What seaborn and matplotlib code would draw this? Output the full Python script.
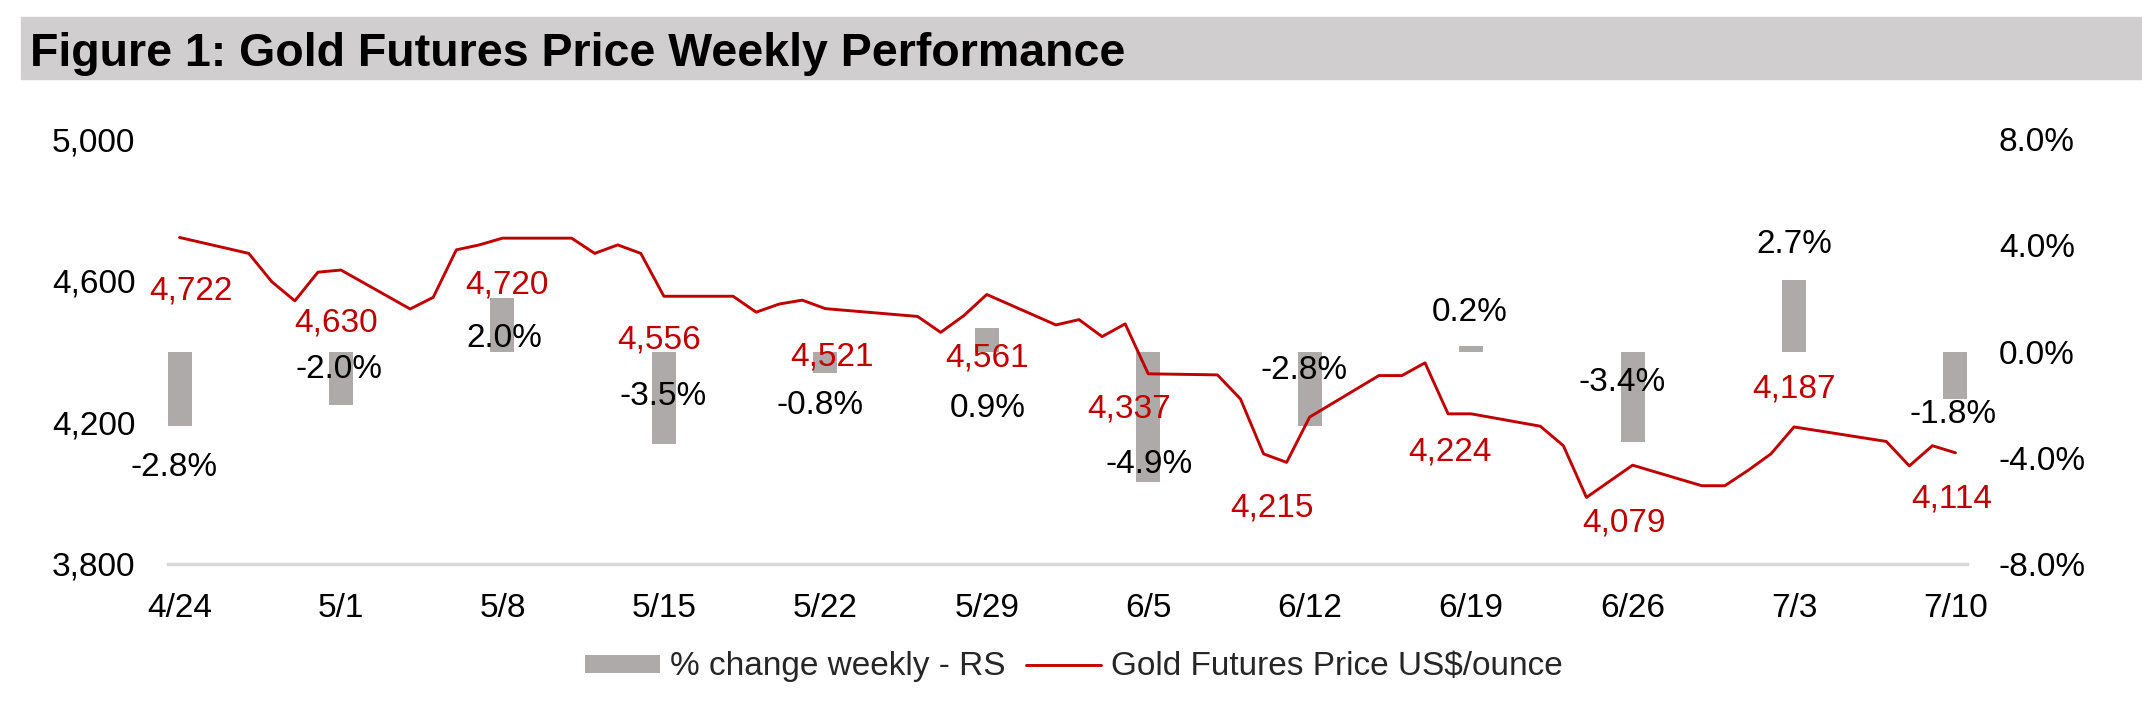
import matplotlib
matplotlib.use("Agg")
import matplotlib.pyplot as plt
import matplotlib.dates as mdates
from matplotlib.patches import Rectangle, Patch
from matplotlib.lines import Line2D
import numpy as np
import pandas as pd
import seaborn as sns

# ---------------- data ----------------
price_dates = ["2026-04-24", "2026-04-27", "2026-04-28", "2026-04-29", "2026-04-30", "2026-05-01",
               "2026-05-04", "2026-05-05", "2026-05-06", "2026-05-07", "2026-05-08",
               "2026-05-11", "2026-05-12", "2026-05-13", "2026-05-14", "2026-05-15",
               "2026-05-18", "2026-05-19", "2026-05-20", "2026-05-21", "2026-05-22",
               "2026-05-26", "2026-05-27", "2026-05-28", "2026-05-29",
               "2026-06-01", "2026-06-02", "2026-06-03", "2026-06-04", "2026-06-05",
               "2026-06-08", "2026-06-09", "2026-06-10", "2026-06-11", "2026-06-12",
               "2026-06-15", "2026-06-16", "2026-06-17", "2026-06-18", "2026-06-19",
               "2026-06-22", "2026-06-23", "2026-06-24", "2026-06-26",
               "2026-06-29", "2026-06-30", "2026-07-01", "2026-07-02", "2026-07-03",
               "2026-07-07", "2026-07-08", "2026-07-09", "2026-07-10"]
prices = [4722, 4677, 4597, 4543, 4624, 4630,
          4520, 4553, 4687, 4701, 4720,
          4720, 4677, 4701, 4677, 4556,
          4556, 4511, 4534, 4545, 4521,
          4499, 4454, 4501, 4561,
          4475, 4490, 4442, 4478, 4337,
          4334, 4266, 4111, 4087, 4215,
          4332, 4332, 4368, 4224, 4224,
          4189, 4134, 3988, 4079,
          4021, 4021, 4064, 4111, 4187,
          4146, 4077, 4134, 4114]

week_dates = ["2026-04-24", "2026-05-01", "2026-05-08", "2026-05-15", "2026-05-22", "2026-05-29",
              "2026-06-05", "2026-06-12", "2026-06-19", "2026-06-26", "2026-07-03", "2026-07-10"]
week_labels = ["4/24", "5/1", "5/8", "5/15", "5/22", "5/29",
               "6/5", "6/12", "6/19", "6/26", "7/3", "7/10"]
weekly_pct = [-2.8, -2.0, 2.0, -3.5, -0.8, 0.9, -4.9, -2.8, 0.2, -3.4, 2.7, -1.8]
week_close = [4722, 4630, 4720, 4556, 4521, 4561, 4337, 4215, 4224, 4079, 4187, 4114]

left_ticks = [3800, 4200, 4600, 5000]
right_ticks = [-8.0, -4.0, 0.0, 4.0, 8.0]

title = "Figure 1: Gold Futures Price Weekly Performance"
bar_legend = "% change weekly - RS"
line_legend = "Gold Futures Price US$/ounce"

# ---------------- layout / style ----------------
price_label_offsets = [(11, -50), (-5, -49), (5, -43), (-5, -40), (7, -45), (0, -60),
                       (-19, -32), (-38, -87), (-21, -35), (-9, -54), (0, 41), (-4, -43)]
pct_label_offsets = [(-5, -38), (-2, 39), (2, -37), (-1, 51), (-5, -29), (1, -77),
                     (1, 21), (-6, 59), (-1, 37), (-10, 63), (0, 39), (-2, -12)]

RED = "#C00000"
BAR = "#AEAAAA"
BAND = "#D0CECE"
AXLINE = "#D9D9D9"
FS = 24

sns.set_theme(style="white")
plt.rcParams["font.family"] = ["Liberation Sans", "DejaVu Sans"]

W, H = 2142, 708
fig = plt.figure(figsize=(W / 100, H / 100), dpi=100)

# title band
fig.patches.append(Rectangle((21 / W, 1 - 79 / H), 1 - 21 / W, 62 / H,
                             transform=fig.transFigure, color=BAND, zorder=0))
fig.text(30 / W, 1 - 66 / H, title, fontsize=33.5, fontweight="bold",
         ha="left", va="baseline", color="black")

ax = fig.add_axes([168 / W, 1 - 564 / H, (1967 - 168) / W, (564 - 139) / H])
ax2 = ax.twinx()

df_line = pd.DataFrame({"x": mdates.date2num(pd.to_datetime(price_dates)), "price": prices})
df_bar = pd.DataFrame({"x": mdates.date2num(pd.to_datetime(week_dates)), "pct": weekly_pct})

sns.barplot(data=df_bar, x="x", y="pct", native_scale=True, orient="x",
            color=BAR, saturation=1, width=1.04 / 7, ax=ax2, edgecolor="none")
sns.lineplot(data=df_line, x="x", y="price", color=RED, linewidth=2.1, ax=ax)

ax.set_zorder(ax2.get_zorder() + 1)
ax.patch.set_visible(False)

xnums = mdates.date2num(pd.to_datetime(week_dates))
ax.set_xlim(xnums[0] - 0.5, xnums[-1] + 0.5)
ax2.set_xlim(xnums[0] - 0.5, xnums[-1] + 0.5)
ax.set_ylim(3800, 5000)
ax2.set_ylim(-8, 8)

ax.set_xticks(xnums)
ax.set_xticklabels(week_labels)
ax.set_yticks(left_ticks)
ax.set_yticklabels([f"{v:,}" for v in left_ticks])
ax2.set_yticks(right_ticks)
ax2.set_yticklabels([f"{v:.1f}%" for v in right_ticks])

ax.tick_params(axis="x", length=0, pad=21, labelsize=FS, colors="black")
ax.tick_params(axis="y", length=0, pad=23.5, labelsize=FS, colors="black")
ax2.tick_params(axis="y", length=0, pad=23, labelsize=FS, colors="black")
ax.set_xlabel("")
ax.set_ylabel("")
ax2.set_xlabel("")
ax2.set_ylabel("")

for a in (ax, ax2):
    for s in ("top", "left", "right", "bottom"):
        a.spines[s].set_visible(False)
ax.spines["bottom"].set_visible(True)
ax.spines["bottom"].set_color(AXLINE)
ax.spines["bottom"].set_linewidth(2.5)
ax.grid(False)
ax2.grid(False)

# data labels
half = 12
for xv, v, (dx, dy) in zip(xnums, week_close, price_label_offsets):
    ax.annotate(f"{v:,}", xy=(xv, v), xycoords=ax.transData,
                xytext=(dx, dy - half), textcoords="offset pixels",
                ha="center", va="baseline", fontsize=FS, color=RED, zorder=10)
for xv, v, (dx, dy) in zip(xnums, weekly_pct, pct_label_offsets):
    ax.annotate(f"{v:.1f}%", xy=(xv, v), xycoords=ax2.transData,
                xytext=(dx, dy - half), textcoords="offset pixels",
                ha="center", va="baseline", fontsize=FS, color="black", zorder=10)

# legend
handles = [Patch(facecolor=BAR, edgecolor="none"), Line2D([0], [0], color=RED, lw=2.1)]
fig.legend(handles, [bar_legend, line_legend], loc="center", bbox_to_anchor=(1074 / W, 1 - 667 / H),
           ncol=2, frameon=False, fontsize=FS, handlelength=2.25, handleheight=0.45,
           handletextpad=0.3, columnspacing=0.63)

fig.savefig("out.png", dpi=100)
